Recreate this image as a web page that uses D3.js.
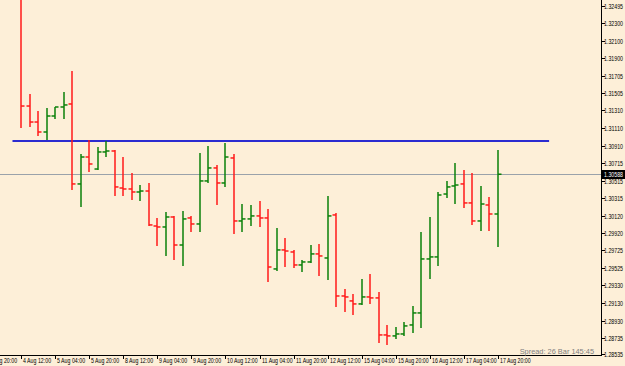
<!DOCTYPE html>
<html>
<head>
<meta charset="utf-8">
<script src="https://cdnjs.cloudflare.com/ajax/libs/d3/7.8.5/d3.min.js"></script>
<style>
  body { margin: 0; background: #fdefd8; }
  svg { display: block; }
  text { font-family: "Liberation Sans", Arial, sans-serif; }
  text.ax { font-family: "Liberation Sans Narrow", "Liberation Sans", Arial, sans-serif; }
</style>
</head>
<body>
<svg id="chart" width="625" height="366"></svg>
<script>
/* 4H bars, 4 Aug 12:00 .. 17 Aug 20:00 */
var open  = [1.32617,1.31360,1.31179,1.31066,1.31247,1.31349,1.31383,1.30478,1.30783,1.30647,
             1.30840,1.30851,1.30432,1.30421,1.30387,1.30398,1.30002,1.29991,1.30104,1.29787,
             1.30093,1.30025,1.30512,1.30659,1.30489,1.30772,1.30059,1.30082,1.30116,1.30093,
             1.29516,1.29731,1.29708,1.29561,1.29595,1.29686,1.29640,1.30127,1.29210,1.29154,
             1.29120,1.29199,1.29188,1.28769,1.28758,1.28780,1.28882,1.29018,1.29629,1.29652,
             1.30364,1.30455,1.30478,1.30263,1.30059,1.30240,1.30138];
var high  = [1.32750,1.31496,1.31304,1.31338,1.31349,1.31519,1.31757,1.30817,1.30976,1.30896,
             1.30964,1.30862,1.30783,1.30602,1.30466,1.30489,1.30093,1.30161,1.30116,1.30172,
             1.30116,1.30828,1.30908,1.30693,1.30942,1.30817,1.30251,1.30240,1.30285,1.30195,
             1.29980,1.29867,1.29731,1.29618,1.29787,1.29799,1.30342,1.30150,1.29289,1.29233,
             1.29403,1.29459,1.29255,1.28882,1.28859,1.28916,1.29097,1.29935,1.30104,1.30387,
             1.30512,1.30715,1.30636,1.30602,1.30455,1.30331,1.30862];
var low   = [1.31111,1.31123,1.31021,1.30976,1.31213,1.31213,1.30410,1.30217,1.30613,1.30636,
             1.30783,1.30342,1.30342,1.30297,1.30285,1.30002,1.29776,1.29663,1.29618,1.29550,
             1.29935,1.29935,1.30489,1.30240,1.30444,1.29912,1.29935,1.30002,1.29991,1.29369,
             1.29493,1.29538,1.29527,1.29482,1.29584,1.29437,1.29391,1.29086,1.29029,1.28995,
             1.29109,1.29120,1.28678,1.28656,1.28724,1.28758,1.28791,1.28848,1.29403,1.29550,
             1.30319,1.30251,1.30206,1.30014,1.29946,1.29946,1.29765];
var close = [1.31360,1.31179,1.31066,1.31247,1.31349,1.31372,1.30478,1.30783,1.30704,1.30840,
             1.30851,1.30444,1.30421,1.30387,1.30398,1.30014,1.29991,1.30104,1.29787,1.30082,
             1.30025,1.30512,1.30659,1.30489,1.30783,1.30059,1.30082,1.30116,1.30093,1.29538,
             1.29731,1.29719,1.29561,1.29595,1.29686,1.29663,1.30116,1.29210,1.29199,1.29120,
             1.29199,1.29188,1.28769,1.28758,1.28780,1.28871,1.29018,1.29629,1.29652,1.30353,
             1.30444,1.30466,1.30263,1.30059,1.30251,1.30138,1.30588];

/* time labels, one every 4 bars, first one sits 4 bars before the first bar */
var timeLabels = ["3 Aug 20:00","4 Aug 12:00","5 Aug 04:00","5 Aug 20:00","8 Aug 12:00",
                  "9 Aug 04:00","9 Aug 20:00","10 Aug 12:00","11 Aug 04:00","11 Aug 20:00",
                  "12 Aug 12:00","15 Aug 04:00","15 Aug 20:00","16 Aug 12:00","17 Aug 04:00",
                  "17 Aug 20:00"];
var priceTicks = [1.32495,1.32300,1.32100,1.31900,1.31705,1.31505,1.31310,1.31110,1.30910,
                  1.30715,1.30515,1.30315,1.30120,1.29920,1.29725,1.29525,1.29330,1.29130,
                  1.28930,1.28735,1.28535];
var bidPrice = 1.30588;
var hLine = {price: 1.30964, from: -1, to: 62};
var infoText = "Spread: 26 Bar  145:45";

var W = 625, H = 366, plotR = 601, plotB = 355;

var svg = d3.select("#chart");
svg.append("rect").attr("width", W).attr("height", H).attr("fill", "#fdefd8");

var x = d3.scaleLinear().domain([0, 56]).range([21, 498]);
var y = d3.scaleLinear().domain([1.28542, 1.32560]).range([plotB, 0]);

var plot = svg.append("g");
var clip = svg.append("clipPath").attr("id", "clip");
clip.append("rect").attr("x", 0).attr("y", 0).attr("width", plotR).attr("height", plotB);
plot.attr("clip-path", "url(#clip)");

/* bid price line */
plot.append("line")
  .attr("x1", 0).attr("x2", plotR)
  .attr("y1", Math.round(y(bidPrice)) + 0.5).attr("y2", Math.round(y(bidPrice)) + 0.5)
  .attr("stroke", "#9aa2aa").attr("stroke-width", 1);

/* horizontal trend line */
plot.append("line")
  .attr("x1", x(hLine.from)).attr("x2", x(hLine.to))
  .attr("y1", y(hLine.price)).attr("y2", y(hLine.price))
  .attr("stroke", "#2b2bd0").attr("stroke-width", 2);

/* OHLC bars */
var bars = plot.selectAll("g.bar")
  .data(open.map(function(o, i) {
    return {i: i, o: o, h: high[i], l: low[i], c: close[i]};
  }))
  .enter().append("g")
  .attr("class", "bar")
  .attr("stroke", function(d) { return d.c >= d.o ? "#0a800a" : "#ff1a1a"; })
  .attr("stroke-width", 1.5);

bars.append("line")
  .attr("x1", function(d) { return Math.round(x(d.i)); })
  .attr("x2", function(d) { return Math.round(x(d.i)); })
  .attr("y1", function(d) { return y(d.h); })
  .attr("y2", function(d) { return y(d.l); });
bars.append("line")
  .attr("x1", function(d) { return Math.round(x(d.i)) - 3.5; })
  .attr("x2", function(d) { return Math.round(x(d.i)); })
  .attr("y1", function(d) { return y(d.o); })
  .attr("y2", function(d) { return y(d.o); });
bars.append("line")
  .attr("x1", function(d) { return Math.round(x(d.i)); })
  .attr("x2", function(d) { return Math.round(x(d.i)) + 3.5; })
  .attr("y1", function(d) { return y(d.c); })
  .attr("y2", function(d) { return y(d.c); });

/* frame lines */
svg.append("line").attr("x1", plotR + 0.5).attr("x2", plotR + 0.5)
  .attr("y1", 0).attr("y2", plotB + 1).attr("stroke", "#000");
svg.append("line").attr("x1", 0).attr("x2", plotR + 1)
  .attr("y1", plotB + 0.5).attr("y2", plotB + 0.5).attr("stroke", "#000");

/* price axis */
var pa = svg.append("g").selectAll("g").data(priceTicks).enter().append("g")
  .attr("transform", function(d) { return "translate(0," + Math.min(Math.round(y(d)), plotB - 1) + ")"; });
pa.append("line").attr("x1", plotR).attr("x2", plotR + 4)
  .attr("y1", 0.5).attr("y2", 0.5).attr("stroke", "#000");
pa.append("text").attr("class", "ax").attr("x", 604).attr("y", 2.7)
  .attr("font-size", 6.5).attr("fill", "#000")
  .attr("textLength", 19).attr("lengthAdjust", "spacingAndGlyphs")
  .text(function(d) { return d.toFixed(5); });

/* bid price label */
var by = Math.round(y(bidPrice));
svg.append("rect").attr("x", 602).attr("y", by - 4).attr("width", 23).attr("height", 9).attr("fill", "#000");
svg.append("text").attr("class", "ax").attr("x", 604).attr("y", by + 2.7)
  .attr("font-size", 6.5).attr("fill", "#fff")
  .attr("textLength", 19).attr("lengthAdjust", "spacingAndGlyphs")
  .text(bidPrice.toFixed(5));

/* time axis */
var ta = svg.append("g").selectAll("g").data(timeLabels).enter().append("g")
  .attr("transform", function(d, k) { return "translate(" + Math.round(x((k - 1) * 4)) + ",0)"; });
ta.append("line").attr("x1", 0.5).attr("x2", 0.5)
  .attr("y1", plotB).attr("y2", plotB + 4).attr("stroke", "#000");
ta.append("text").attr("class", "ax").attr("x", 2).attr("y", 363.3)
  .attr("font-size", 6.5).attr("fill", "#000")
  .attr("textLength", function(d) { return d.length * 2.55; })
  .attr("lengthAdjust", "spacingAndGlyphs")
  .text(function(d) { return d; });

/* info text */
svg.append("text").attr("x", 594).attr("y", 353.5)
  .attr("text-anchor", "end").attr("font-size", 7.4).attr("fill", "#808080")
  .text(infoText);
</script>
</body>
</html>
